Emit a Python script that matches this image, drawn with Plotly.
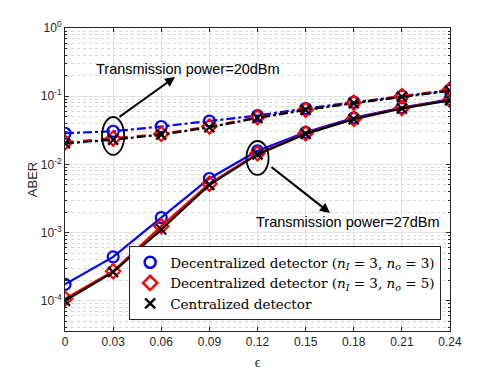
import plotly.graph_objects as go

eps = [0, 0.03, 0.06, 0.09, 0.12, 0.15, 0.18, 0.21, 0.24]

# transmission power 27 dBm (solid)
dec33_27 = [1.74e-4, 4.4e-4, 1.65e-3, 6.2e-3, 1.58e-2, 2.95e-2, 4.8e-2, 6.8e-2, 9.0e-2]
dec35_27 = [1.07e-4, 2.7e-4, 1.24e-3, 5.2e-3, 1.45e-2, 2.85e-2, 4.65e-2, 6.7e-2, 8.8e-2]
cen_27 = [1.0e-4, 2.63e-4, 1.11e-3, 5.0e-3, 1.4e-2, 2.8e-2, 4.6e-2, 6.6e-2, 8.7e-2]

# transmission power 20 dBm (dashed)
dec33_20 = [2.86e-2, 3.06e-2, 3.59e-2, 4.3e-2, 5.2e-2, 6.6e-2, 8.2e-2, 0.1, 0.122]
dec35_20 = [2.1e-2, 2.4e-2, 2.8e-2, 3.6e-2, 4.9e-2, 6.3e-2, 8.0e-2, 0.1, 0.125]
cen_20 = [2.04e-2, 2.3e-2, 2.73e-2, 3.5e-2, 4.8e-2, 6.3e-2, 7.9e-2, 0.098, 0.12]

names = [
    "Decentralized detector (<i>n</i><sub><i>I</i></sub> = 3, <i>n</i><sub><i>o</i></sub> = 3)",
    "Decentralized detector (<i>n</i><sub><i>I</i></sub> = 3, <i>n</i><sub><i>o</i></sub> = 5)",
    "Centralized detector",
]
ytick_vals = [1e-4, 1e-3, 1e-2, 1e-1, 1]
ytick_text = ["10<sup>-4</sup>", "10<sup>-3</sup>", "10<sup>-2</sup>", "10<sup>-1</sup>", "10<sup>0</sup>"]
yminor_vals = [m * 10.0 ** e for e in range(-5, 0) for m in range(2, 10)]

styles = [
    dict(color="#0000ff", symbol="circle-open", size=11),
    dict(color="#ff0000", symbol="diamond-open", size=11),
    dict(color="#000000", symbol="x-thin-open", size=10),
]

fig = go.Figure()

series = [
    (dec33_20, 0, "dashdot"), (dec35_20, 1, "dash"), (cen_20, 2, "dashdot"),
    (dec33_27, 0, "solid"), (dec35_27, 1, "solid"), (cen_27, 2, "solid"),
]
for vals, k, dash in series:
    s = styles[k]
    fig.add_trace(go.Scatter(
        x=eps, y=vals, mode="lines+markers", showlegend=False,
        line=dict(color=s["color"], width=2.2, dash=dash),
        marker=dict(symbol=s["symbol"], size=s["size"], color=s["color"],
                    line=dict(color=s["color"], width=2.2)),
    ))

# legend entries: markers only
for k, nm in enumerate(names):
    s = styles[k]
    fig.add_trace(go.Scatter(
        x=[None], y=[None], mode="markers", name=nm,
        marker=dict(symbol=s["symbol"], size=s["size"], color=s["color"],
                    line=dict(color=s["color"], width=2.5)),
    ))

# ellipses marking the point groups
fig.add_shape(type="circle", xref="x", yref="y", x0=0.0231, x1=0.0369,
              y0=10 ** -1.862, y1=10 ** -1.305, line=dict(color="black", width=1.8))
fig.add_shape(type="circle", xref="x", yref="y", x0=0.1131, x1=0.1269,
              y0=10 ** -2.155, y1=10 ** -1.657, line=dict(color="black", width=1.8))

txt_font = dict(family="Liberation Sans, Arial", size=14.5, color="black")
fig.add_annotation(x=0.0686, y=-0.718, ax=0.033, ay=-1.32, xref="x", yref="y",
                   axref="x", ayref="y", showarrow=True, arrowhead=2, arrowsize=1,
                   arrowwidth=2, arrowcolor="black", text="")
fig.add_annotation(x=0.1652, y=-2.713, ax=0.1278, ay=-2.023, xref="x", yref="y",
                   axref="x", ayref="y", showarrow=True, arrowhead=2, arrowsize=1,
                   arrowwidth=2, arrowcolor="black", text="")
fig.add_annotation(x=0.0764, y=-0.601, xref="x", yref="y", showarrow=False,
                   text="Transmission power=20dBm", font=txt_font)
fig.add_annotation(x=0.1764, y=-2.845, xref="x", yref="y", showarrow=False,
                   text="Transmission power=27dBm", font=txt_font)

axis_common = dict(
    showline=True, linecolor="#262626", linewidth=1, mirror="ticks",
    ticks="inside", ticklen=4, tickcolor="#262626",
    showgrid=True, gridcolor="#e3e3e3", gridwidth=1, zeroline=False,
    tickfont=dict(family="Liberation Sans, Arial", size=12, color="#262626"),
)

fig.update_xaxes(
    range=[0, 0.24], tickvals=eps, ticktext=["0"] + [f"{v:.2f}" for v in eps[1:]],
    title=dict(text="ϵ", font=dict(family="Liberation Serif", size=14, color="#262626"), standoff=8),
    **axis_common,
)
fig.update_yaxes(
    type="log", range=[-4.444, 0], tickvals=ytick_vals, ticktext=ytick_text,
    title=dict(text="ABER", font=dict(family="Liberation Sans, Arial", size=13, color="#262626"), standoff=0),
    minor=dict(tickmode="array", tickvals=yminor_vals, ticks="inside", ticklen=2,
               tickcolor="#262626", showgrid=True,
               gridcolor="#d6d6d6", griddash="dot", gridwidth=1),
    **axis_common,
)

# page body has an ~8px default margin, so margins are pulled in by that much
fig.update_layout(
    width=498, height=374,
    margin=dict(l=57, r=56, t=20, b=51),
    plot_bgcolor="white", paper_bgcolor="white",
    showlegend=True,
    legend=dict(x=0.977, y=0.036, xanchor="right", yanchor="bottom",
                bgcolor="white", bordercolor="#262626", borderwidth=1,
                font=dict(family="DejaVu Serif", size=13.5, color="black"),
                tracegroupgap=0, itemwidth=30),
)

fig.write_html("out.html")
